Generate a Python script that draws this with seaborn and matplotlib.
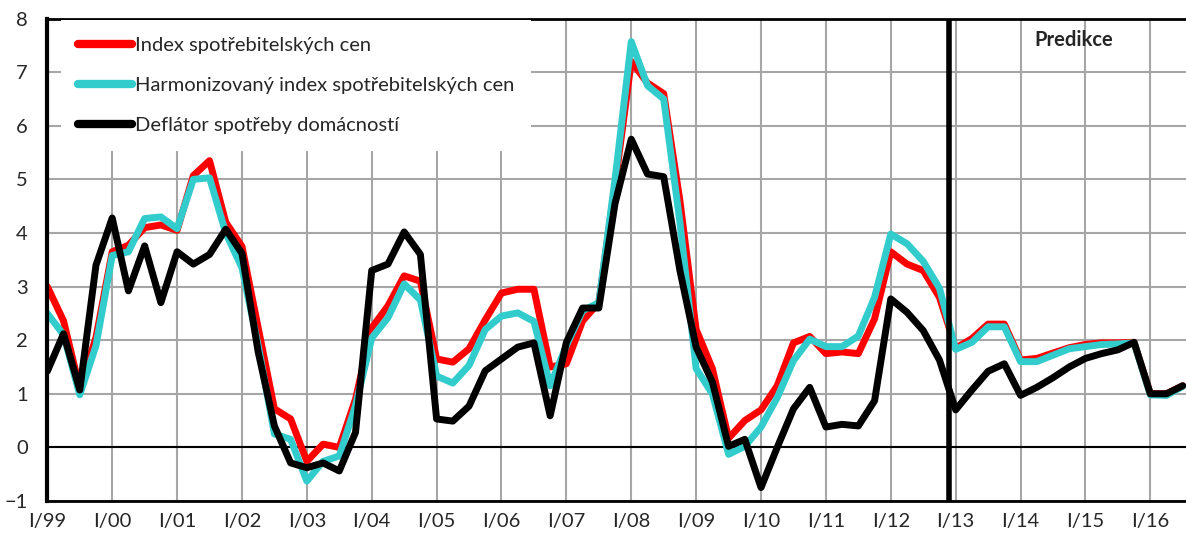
import numpy as np
import pandas as pd
import matplotlib
matplotlib.use("Agg")
import matplotlib.pyplot as plt
import seaborn as sns

# quarterly data, I/99 ... III/16
cpi = [3.0, 2.36, 1.1, 2.05, 3.65, 3.77, 4.1, 4.15, 4.05, 5.07, 5.35, 4.2,
       3.75, 2.23, 0.72, 0.53, -0.26, 0.06, 0.0, 0.9, 2.23, 2.64, 3.2, 3.1,
       1.65, 1.59, 1.84, 2.38, 2.88, 2.95, 2.95, 1.5, 1.56, 2.36, 2.7, 4.9,
       7.2, 6.8, 6.6, 4.6, 2.2, 1.47, 0.17, 0.5, 0.7, 1.15, 1.95, 2.07,
       1.75, 1.78, 1.75, 2.4, 3.65, 3.42, 3.3, 2.8, 1.85, 2.03, 2.3, 2.3,
       1.63, 1.66, 1.76, 1.86, 1.92, 1.95, 1.95, 1.96, 1.0, 1.0, 1.15]
hicp = [2.5, 2.1, 0.98, 1.9, 3.58, 3.65, 4.27, 4.3, 4.08, 5.0, 5.03, 4.0,
        3.35, 1.9, 0.25, 0.15, -0.63, -0.26, -0.16, 0.78, 2.04, 2.42, 3.05, 2.75,
        1.33, 1.2, 1.53, 2.2, 2.45, 2.51, 2.35, 1.15, 1.9, 2.55, 2.7, 5.0,
        7.57, 6.75, 6.5, 4.2, 1.47, 1.0, -0.13, 0.02, 0.38, 0.93, 1.62, 2.02,
        1.88, 1.88, 2.08, 2.8, 3.98, 3.8, 3.47, 2.97, 1.83, 1.96, 2.25, 2.25,
        1.6, 1.6, 1.72, 1.84, 1.88, 1.92, 1.93, 1.95, 0.98, 0.97, 1.14]
deflator = [1.42, 2.12, 1.07, 3.4, 4.28, 2.92, 3.76, 2.7, 3.65, 3.42, 3.6, 4.07,
            3.62, 1.78, 0.4, -0.29, -0.38, -0.29, -0.44, 0.28, 3.3, 3.42, 4.02, 3.6,
            0.53, 0.49, 0.77, 1.43, 1.65, 1.87, 1.95, 0.59, 1.96, 2.6, 2.6, 4.55,
            5.75, 5.1, 5.05, 3.3, 1.87, 1.22, 0.02, 0.15, -0.75, 0.0, 0.72, 1.12,
            0.38, 0.43, 0.4, 0.87, 2.77, 2.52, 2.18, 1.63, 0.7, 1.07, 1.42, 1.56,
            0.97, 1.12, 1.3, 1.5, 1.66, 1.75, 1.82, 1.96, 1.0, 1.0, 1.15]

names = ["Index spotřebitelských cen",
         "Harmonizovaný index spotřebitelských cen",
         "Deflátor spotřeby domácností"]
colors = ["#ff0000", "#33cccc", "#000000"]
year_labels = ["I/%02d" % (y % 100) for y in range(1999, 2017)]
prediction_start = 55.6  # position of the forecast divider (quarter index)

q = np.arange(len(cpi))
df = pd.DataFrame({
    "q": np.concatenate([q, q, q]),
    "val": cpi + hicp + deflator,
    "serie": [names[0]] * len(q) + [names[1]] * len(q) + [names[2]] * len(q),
})

sns.set_style("white")
plt.rcParams['font.family'] = ['Lato', 'DejaVu Sans']
FS = 14.5

fig = plt.figure(figsize=(11.86, 5.35), dpi=100)
ax = fig.add_axes([0.0399, 0.0636, 0.9601, 0.9016])

sns.lineplot(data=df, x="q", y="val", hue="serie", hue_order=names,
             palette=colors, linewidth=5, ax=ax, legend=True,
             solid_joinstyle="round", solid_capstyle="round")

ax.set_xlim(0, 70.2)
ax.set_ylim(-1, 8)
ax.set_xticks(np.arange(0, 69, 4))
ax.set_xticklabels(year_labels)
ax.set_yticks(range(-1, 9))
ax.set_xlabel("")
ax.set_ylabel("")
ax.tick_params(length=0, labelsize=FS)
ax.tick_params(axis="x", pad=9)
ax.tick_params(axis="y", pad=14)

ax.grid(True, color="#a6a6a6", linewidth=1.5)
ax.set_axisbelow(True)
ax.axhline(0, color="black", linewidth=1.5, zorder=1.5)
ax.axvline(prediction_start, color="black", linewidth=4, zorder=5)

for s in ["top", "bottom"]:
    ax.spines[s].set_color("black")
    ax.spines[s].set_linewidth(2)
ax.spines["left"].set_color("black")
ax.spines["left"].set_linewidth(3)
ax.spines["right"].set_visible(False)

ax.text(63.3, 7.6, "Predikce", fontsize=FS, fontweight="bold",
        ha="center", va="center")

h, l = ax.get_legend_handles_labels()
leg = ax.legend(h, l, loc="upper left", bbox_to_anchor=(0.011, 1.0),
                frameon=True, facecolor="white", edgecolor="none", framealpha=1,
                fontsize=FS, handlelength=2.7, handletextpad=0.12,
                labelspacing=1.15, borderpad=0.85, borderaxespad=0.05)
leg.get_frame().set_boxstyle("square", pad=0)
for line in leg.get_lines():
    line.set_linewidth(6)
    line.set_solid_capstyle("round")

fig.savefig("out.png", dpi=100)
